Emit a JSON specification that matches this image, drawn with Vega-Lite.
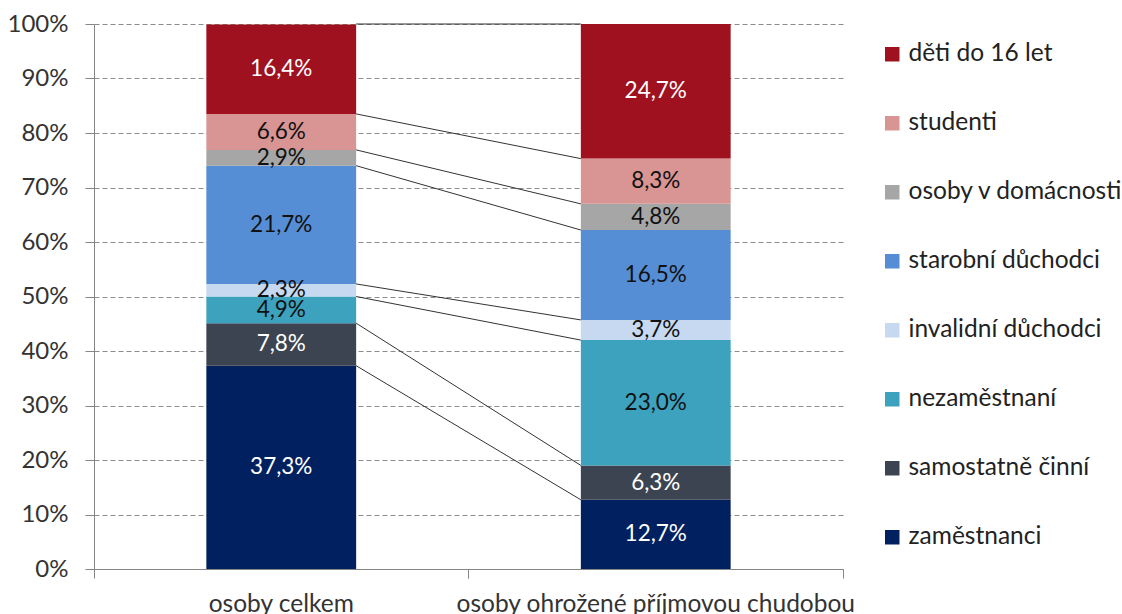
{
  "$schema": "https://vega.github.io/schema/vega-lite/v6.json",
  "width": 749,
  "height": 545,
  "autosize": {"type": "none"},
  "padding": {"left": 94, "top": 24, "right": 279, "bottom": 45},
  "background": "white",
  "config": {"view": {"stroke": null}, "font": "Lato"},
  "datasets": {
    "bars": [
      {"skupina": "osoby celkem", "kategorie": "zaměstnanci", "podil": 37.3, "poradi": 1, "popisek": "37,3%"},
      {"skupina": "osoby celkem", "kategorie": "samostatně činní", "podil": 7.8, "poradi": 2, "popisek": "7,8%"},
      {"skupina": "osoby celkem", "kategorie": "nezaměstnaní", "podil": 4.9, "poradi": 3, "popisek": "4,9%"},
      {"skupina": "osoby celkem", "kategorie": "invalidní důchodci", "podil": 2.3, "poradi": 4, "popisek": "2,3%"},
      {"skupina": "osoby celkem", "kategorie": "starobní důchodci", "podil": 21.7, "poradi": 5, "popisek": "21,7%"},
      {"skupina": "osoby celkem", "kategorie": "osoby v domácnosti", "podil": 2.9, "poradi": 6, "popisek": "2,9%"},
      {"skupina": "osoby celkem", "kategorie": "studenti", "podil": 6.6, "poradi": 7, "popisek": "6,6%"},
      {"skupina": "osoby celkem", "kategorie": "děti do 16 let", "podil": 16.4, "poradi": 8, "popisek": "16,4%"},
      {"skupina": "osoby ohrožené příjmovou chudobou", "kategorie": "zaměstnanci", "podil": 12.7, "poradi": 1, "popisek": "12,7%"},
      {"skupina": "osoby ohrožené příjmovou chudobou", "kategorie": "samostatně činní", "podil": 6.3, "poradi": 2, "popisek": "6,3%"},
      {"skupina": "osoby ohrožené příjmovou chudobou", "kategorie": "nezaměstnaní", "podil": 23.0, "poradi": 3, "popisek": "23,0%"},
      {"skupina": "osoby ohrožené příjmovou chudobou", "kategorie": "invalidní důchodci", "podil": 3.7, "poradi": 4, "popisek": "3,7%"},
      {"skupina": "osoby ohrožené příjmovou chudobou", "kategorie": "starobní důchodci", "podil": 16.5, "poradi": 5, "popisek": "16,5%"},
      {"skupina": "osoby ohrožené příjmovou chudobou", "kategorie": "osoby v domácnosti", "podil": 4.8, "poradi": 6, "popisek": "4,8%"},
      {"skupina": "osoby ohrožené příjmovou chudobou", "kategorie": "studenti", "podil": 8.3, "poradi": 7, "popisek": "8,3%"},
      {"skupina": "osoby ohrožené příjmovou chudobou", "kategorie": "děti do 16 let", "podil": 24.7, "poradi": 8, "popisek": "24,7%"}
    ],
    "spojnice": [
      {"kategorie": "zaměstnanci", "od": 37.3, "do": 12.7},
      {"kategorie": "samostatně činní", "od": 45.1, "do": 19.0},
      {"kategorie": "nezaměstnaní", "od": 50.0, "do": 42.0},
      {"kategorie": "invalidní důchodci", "od": 52.3, "do": 45.7},
      {"kategorie": "starobní důchodci", "od": 74.0, "do": 62.2},
      {"kategorie": "osoby v domácnosti", "od": 76.9, "do": 67.0},
      {"kategorie": "studenti", "od": 83.5, "do": 75.3},
      {"kategorie": "děti do 16 let", "od": 100, "do": 100}
    ]
  },
  "layer": [
    {
      "data": {"name": "bars"},
      "mark": {"type": "bar"},
      "encoding": {
        "x": {
          "field": "skupina", "type": "nominal", "title": null,
          "sort": ["osoby celkem", "osoby ohrožené příjmovou chudobou"],
          "scale": {"paddingInner": 0.6, "paddingOuter": 0.3},
          "axis": {"orient": "bottom", "ticks": false, "domain": true, "domainColor": "#868686", "domainWidth": 1,
                   "labelFontSize": 24.5, "labelFont": "Lato", "labelColor": "#333333", "labelAngle": 0, "labelPadding": 23,
                   "labelLimit": 0, "grid": false, "title": null}
        },
        "y": {
          "field": "podil", "type": "quantitative", "stack": "zero", "title": null,
          "scale": {"domain": [0, 100], "nice": false},
          "axis": {"values": [0, 10, 20, 30, 40, 50, 60, 70, 80, 90, 100], "labelExpr": "datum.value + '%'",
                   "domainColor": "#868686", "tickColor": "#868686", "tickSize": 9, "labelPadding": 17,
                   "labelFontSize": 24, "labelFont": "Lato", "labelColor": "#333333",
                   "grid": true, "gridColor": "#8c8c8c", "gridDash": [5, 3], "gridWidth": 1, "title": null}
        },
        "color": {
          "field": "kategorie", "type": "nominal",
          "scale": {
            "domain": ["děti do 16 let", "studenti", "osoby v domácnosti", "starobní důchodci", "invalidní důchodci", "nezaměstnaní", "samostatně činní", "zaměstnanci"],
            "range": ["#A0111F", "#D99594", "#A6A6A6", "#558ED5", "#C6D9F1", "#3CA2BE", "#3D4451", "#002060"]
          },
          "legend": {"orient": "none", "legendX": 786, "legendY": 18, "title": null, "padding": 0,
                     "symbolType": "square", "symbolSize": 210, "symbolStrokeWidth": 0,
                     "labelFontSize": 24.5, "labelFont": "Lato", "labelColor": "#222222",
                     "rowPadding": 44, "labelOffset": 4, "labelLimit": 0}
        },
        "order": {"field": "poradi", "type": "quantitative"}
      }
    },
    {
      "data": {"name": "bars"},
      "mark": {"type": "text", "fontSize": 22.5, "font": "Lato"},
      "encoding": {
        "x": {
          "field": "skupina", "type": "nominal", "title": null,
          "axis": {"orient": "bottom", "labels": false, "domain": false, "ticks": true, "tickSize": 9, "tickColor": "#868686",
                   "bandPosition": -0.75, "grid": false, "title": null}
        },
        "y": {"field": "podil", "type": "quantitative", "stack": "zero", "bandPosition": 0.5, "title": null},
        "detail": {"field": "kategorie"},
        "order": {"field": "poradi", "type": "quantitative"},
        "text": {"field": "popisek"},
        "color": {
          "condition": {"test": "datum.kategorie === 'děti do 16 let' || datum.kategorie === 'samostatně činní' || datum.kategorie === 'zaměstnanci'", "value": "#ffffff"},
          "value": "#111111"
        }
      }
    },
    {
      "data": {"name": "spojnice"},
      "mark": {"type": "rule", "color": "#333333", "strokeWidth": 1},
      "encoding": {
        "x": {
          "datum": "osoby celkem", "type": "nominal", "bandPosition": 1, "title": null,
          "axis": {"orient": "bottom", "labels": false, "domain": false, "ticks": true, "tickSize": 9, "tickColor": "#868686",
                   "bandPosition": 1.75, "grid": false, "title": null}
        },
        "x2": {"datum": "osoby ohrožené příjmovou chudobou", "bandPosition": 0},
        "y": {"field": "od", "type": "quantitative", "title": null},
        "y2": {"field": "do"}
      }
    }
  ],
  "resolve": {"axis": {"x": "independent"}}
}
